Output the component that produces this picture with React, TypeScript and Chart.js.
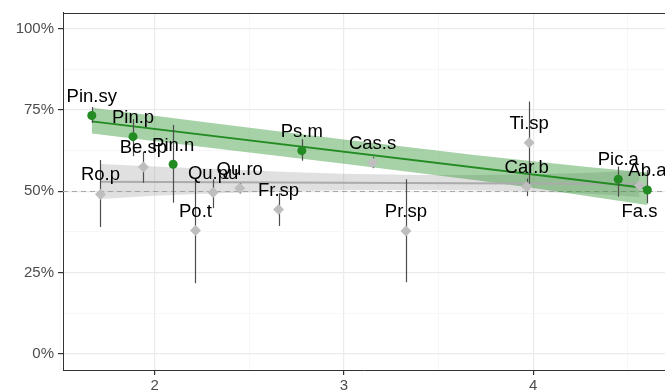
import { useEffect, useRef } from "react";
import { Chart, registerables } from "chart.js";

Chart.register(...registerables);

// Species codes with mean position, mean share (%) and interval bounds (%)
const SPECIES = ["Pin.sy", "Pin.p", "Be.sp", "Pin.n", "Ro.p", "Po.t", "Qu.pu", "Qu.ro", "Fr.sp", "Ps.m", "Cas.s", "Pr.sp", "Ti.sp", "Car.b", "Pic.a", "Fa.s", "Ab.a"];
const X_VALUES = [1.667, 1.885, 1.94, 2.097, 1.713, 2.215, 2.308, 2.449, 2.654, 2.777, 3.151, 3.327, 3.978, 3.965, 4.449, 4.561, 4.603];
const Y_VALUES = [73.3, 66.8, 57.5, 58.3, 49.1, 37.9, 49.6, 50.9, 44.4, 62.5, 58.8, 37.8, 64.9, 51.4, 53.7, 51.8, 50.4];
const Y_LOW = [71.0, 60.8, 52.6, 46.5, 39.0, 21.7, 44.8, 49.3, 39.3, 59.4, 57.1, 22.0, 52.3, 48.5, 48.3, 51.0, 46.3];
const Y_HIGH = [75.9, 72.2, 62.2, 70.4, 59.6, 53.7, 53.7, 52.5, 49.4, 66.0, 60.6, 53.7, 77.6, 53.9, 57.6, 52.6, 56.5];
const CONIFER = [true, true, false, true, false, false, false, false, false, true, false, false, false, false, true, false, true];

// Fitted trend and confidence band, conifers
const CONIFER_FIT_X = [1.667, 4.603];
const CONIFER_FIT_Y = [71.5, 50.9];
const CONIFER_BAND_X = [1.667, 2.3, 3.0, 3.7, 4.0, 4.3, 4.603];
const CONIFER_BAND_HIGH = [75.7, 71.0, 65.9, 61.1, 59.2, 57.4, 55.8];
const CONIFER_BAND_LOW = [67.8, 63.3, 58.5, 53.4, 51.0, 48.4, 45.8];

// Fitted trend and confidence band, broadleaves
const BROADLEAF_FIT_X = [1.713, 4.561];
const BROADLEAF_FIT_Y = [52.9, 52.2];
const BROADLEAF_BAND_X = [1.713, 2.0, 2.3, 2.7, 3.0, 3.4, 3.7, 4.0, 4.3, 4.561];
const BROADLEAF_BAND_HIGH = [58.4, 57.6, 56.9, 55.9, 55.4, 55.0, 55.0, 55.2, 55.7, 56.4];
const BROADLEAF_BAND_LOW = [47.6, 48.6, 49.3, 50.0, 50.3, 50.4, 50.2, 49.9, 49.2, 48.2];

const REFERENCE_LINE = 50;
const X_TICKS = [1.5, 2, 2.5, 3, 3.5, 4, 4.5];
const Y_TICKS = [0, 12.5, 25, 37.5, 50, 62.5, 75, 87.5, 100];

// Label placement (in % units above the point; a few sit below)
const LABEL_NUDGE_UP = 5.8;
const LABEL_NUDGE_DOWN = -8.1;
const LABELS_BELOW = ["Fa.s"];

const GREEN = "#228B22";
const GREY_POINT = "#BEBEBE";
const FONT = "'Liberation Sans', Arial, Helvetica, sans-serif";

const xy = (xs: number[], ys: number[]) => xs.map((x, i) => ({ x, y: ys[i] }));

export default function App() {
  const ref = useRef<HTMLCanvasElement>(null);

  useEffect(() => {
    const canvas = ref.current;
    if (!canvas) return;

    const coniferIdx = SPECIES.map((_, i) => i).filter((i) => CONIFER[i]);
    const broadIdx = SPECIES.map((_, i) => i).filter((i) => !CONIFER[i]);

    const bandStyle = (fillColor: string, order: number, fill: any) => ({
      borderColor: "transparent",
      borderWidth: 0,
      backgroundColor: fillColor,
      pointRadius: 0,
      tension: 0,
      fill,
      order,
    });

    const GREY_POINTS_INDEX = 6;

    const decor = {
      id: "decor",
      beforeDatasetsDraw(chart: any) {
        const { ctx, chartArea, scales } = chart;
        const y = scales.y.getPixelForValue(REFERENCE_LINE);
        ctx.save();
        ctx.strokeStyle = "#A8A8A8";
        ctx.lineWidth = 1;
        ctx.setLineDash([5, 4]);
        ctx.beginPath();
        ctx.moveTo(chartArea.left, Math.round(y) + 0.5);
        ctx.lineTo(chartArea.right, Math.round(y) + 0.5);
        ctx.stroke();
        ctx.setLineDash([]);
        ctx.strokeStyle = "#333333";
        ctx.beginPath();
        ctx.moveTo(chartArea.left, Math.round(chartArea.top) + 0.5);
        ctx.lineTo(chartArea.right, Math.round(chartArea.top) + 0.5);
        ctx.stroke();
        ctx.restore();
      },
      beforeDatasetDraw(chart: any, args: any) {
        if (args.index !== GREY_POINTS_INDEX) return;
        const { ctx, scales } = chart;
        ctx.save();
        ctx.strokeStyle = "#4D4D4D";
        ctx.lineWidth = 1.2;
        SPECIES.forEach((_, i) => {
          const px = Math.round(scales.x.getPixelForValue(X_VALUES[i])) + 0.5;
          ctx.beginPath();
          ctx.moveTo(px, scales.y.getPixelForValue(Y_HIGH[i]));
          ctx.lineTo(px, scales.y.getPixelForValue(Y_LOW[i]));
          ctx.stroke();
        });
        ctx.restore();
      },
      afterDatasetsDraw(chart: any) {
        const { ctx, scales } = chart;
        ctx.save();
        ctx.font = `18.5px ${FONT}`;
        ctx.fillStyle = "#000000";
        ctx.textAlign = "center";
        ctx.textBaseline = "middle";
        SPECIES.forEach((name, i) => {
          const nudge = LABELS_BELOW.includes(name) ? LABEL_NUDGE_DOWN : LABEL_NUDGE_UP;
          const px = scales.x.getPixelForValue(X_VALUES[i]);
          const py = scales.y.getPixelForValue(Y_VALUES[i] + nudge);
          ctx.fillText(name, px, py);
        });
        ctx.restore();
      },
    };

    const isMajorX = (v: number) => v % 1 === 0;
    const isMajorY = (v: number) => v % 25 === 0;
    const noPadding = (s: any) => {
      s.paddingLeft = 0;
      s.paddingRight = 0;
      s.paddingTop = 0;
      s.paddingBottom = 0;
    };

    const chart = new Chart(canvas, {
      type: "line",
      data: {
        datasets: [
          { data: xy(BROADLEAF_BAND_X, BROADLEAF_BAND_HIGH), ...bandStyle("rgba(153,153,153,0.3)", 10, "+1") },
          { data: xy(BROADLEAF_BAND_X, BROADLEAF_BAND_LOW), ...bandStyle("transparent", 9, false) },
          { data: xy(CONIFER_BAND_X, CONIFER_BAND_HIGH), ...bandStyle("rgba(34,139,34,0.4)", 8, "+1") },
          { data: xy(CONIFER_BAND_X, CONIFER_BAND_LOW), ...bandStyle("transparent", 7, false) },
          {
            data: xy(BROADLEAF_FIT_X, BROADLEAF_FIT_Y),
            borderColor: "#ABABAB",
            borderWidth: 2,
            pointRadius: 0,
            fill: false,
            order: 6,
          },
          {
            data: xy(CONIFER_FIT_X, CONIFER_FIT_Y),
            borderColor: GREEN,
            borderWidth: 2,
            pointRadius: 0,
            fill: false,
            order: 5,
          },
          {
            data: broadIdx.map((i) => ({ x: X_VALUES[i], y: Y_VALUES[i] })),
            showLine: false,
            pointStyle: "rectRot",
            pointRadius: 5.5,
            pointBackgroundColor: GREY_POINT,
            pointBorderColor: GREY_POINT,
            pointBorderWidth: 0,
            order: 2,
          },
          {
            data: coniferIdx.map((i) => ({ x: X_VALUES[i], y: Y_VALUES[i] })),
            showLine: false,
            pointStyle: "circle",
            pointRadius: 4.5,
            pointBackgroundColor: GREEN,
            pointBorderColor: GREEN,
            pointBorderWidth: 0,
            order: 1,
          },
        ],
      },
      options: {
        animation: false,
        responsive: false,
        devicePixelRatio: 1,
        layout: { autoPadding: false, padding: { top: 12.5, left: 0, right: 0, bottom: 0 } },
        plugins: { legend: { display: false }, tooltip: { enabled: false } },
        events: [],
        scales: {
          x: {
            type: "linear",
            min: 1.515,
            max: 4.696,
            afterBuildTicks: (s: any) => {
              s.ticks = X_TICKS.map((value) => ({ value }));
            },
            afterFit: (s: any) => {
              s.height = 22;
              noPadding(s);
            },
            ticks: {
              autoSkip: false,
              maxRotation: 0,
              padding: 2,
              color: "#4D4D4D",
              font: { family: FONT, size: 15 },
              callback: (v: any) => (isMajorX(Number(v)) ? String(v) : ""),
            },
            grid: {
              color: (c: any) => (c.tick && isMajorX(c.tick.value) ? "#EBEBEB" : "#F3F3F3"),
              lineWidth: (c: any) => (c.tick && isMajorX(c.tick.value) ? 1.2 : 0.7),
              tickColor: (c: any) => (c.tick && isMajorX(c.tick.value) ? "#333333" : "transparent"),
              tickLength: 5,
            },
            border: { display: true, color: "#333333", width: 1 },
          },
          y: {
            type: "linear",
            min: -5,
            max: 105,
            afterBuildTicks: (s: any) => {
              s.ticks = Y_TICKS.map((value) => ({ value }));
            },
            afterFit: (s: any) => {
              s.width = 63;
              noPadding(s);
            },
            ticks: {
              autoSkip: false,
              padding: 4,
              color: "#4D4D4D",
              font: { family: FONT, size: 15 },
              callback: (v: any) => (isMajorY(Number(v)) ? `${v}%` : ""),
            },
            grid: {
              color: (c: any) => (c.tick && isMajorY(c.tick.value) ? "#EBEBEB" : "#F3F3F3"),
              lineWidth: (c: any) => (c.tick && isMajorY(c.tick.value) ? 1.2 : 0.7),
              tickColor: (c: any) => (c.tick && isMajorY(c.tick.value) ? "#333333" : "transparent"),
              tickLength: 5,
            },
            border: { display: true, color: "#333333", width: 1 },
          },
        },
      },
      plugins: [decor],
    } as any);

    return () => chart.destroy();
  }, []);

  return (
    <div style={{ position: "fixed", left: 0, top: 0, background: "#FFFFFF" }}>
      <canvas ref={ref} width={665} height={392} style={{ display: "block", width: 665, height: 392 }} />
    </div>
  );
}
